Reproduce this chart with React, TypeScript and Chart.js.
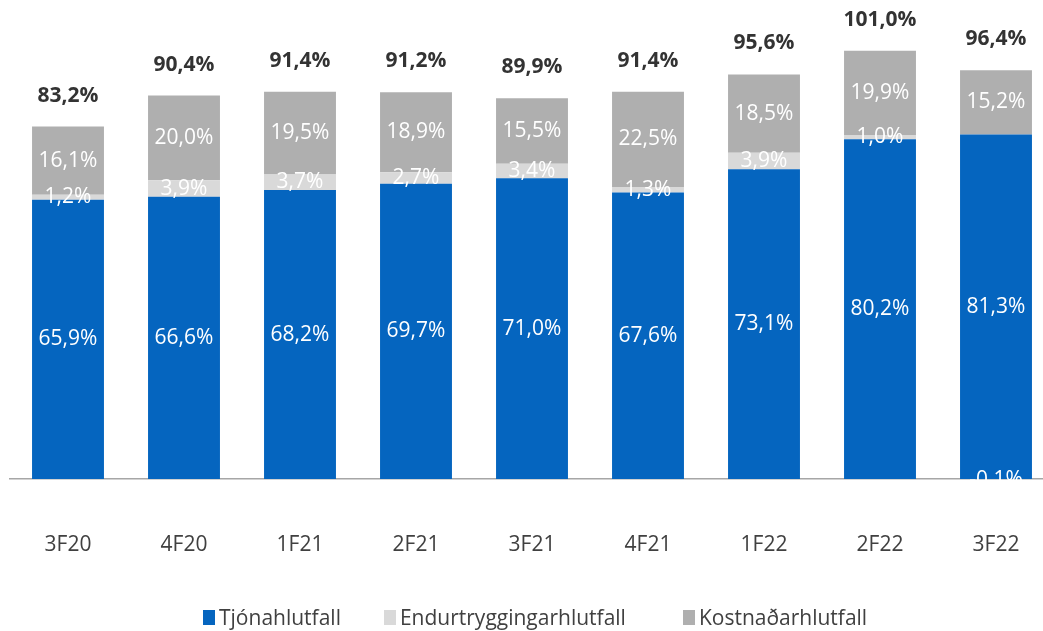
import React, { useEffect, useRef } from "react";
import { Chart, registerables } from "chart.js";

Chart.register(...registerables);

const categories = ["3F20", "4F20", "1F21", "2F21", "3F21", "4F21", "1F22", "2F22", "3F22"];
const tjonahlutfall = [65.9, 66.6, 68.2, 69.7, 71.0, 67.6, 73.1, 80.2, 81.3];
const endurtrygging = [1.2, 3.9, 3.7, 2.7, 3.4, 1.3, 3.9, 1.0, -0.1];
const kostnadar = [16.1, 20.0, 19.5, 18.9, 15.5, 22.5, 18.5, 19.9, 15.2];
const totals = [83.2, 90.4, 91.4, 91.2, 89.9, 91.4, 95.6, 101.0, 96.4];

const seriesNames = ["Tjónahlutfall", "Endurtryggingarhlutfall", "Kostnaðarhlutfall"];
const seriesColors = ["#0565BF", "#D9D9D9", "#AFAFAF"];

const FONT = "'Open Sans', sans-serif";

const fmt = (v: number) => v.toFixed(1).replace(".", ",") + "%";

const labelPlugin = {
  id: "labels",
  afterDatasetsDraw(chart: any) {
    const ctx = chart.ctx;
    ctx.save();
    ctx.textAlign = "center";
    ctx.textBaseline = "middle";
    ctx.font = `400 21px ${FONT}`;
    ctx.fillStyle = "#FFFFFF";
    chart.data.datasets.forEach((ds: any, di: number) => {
      const meta = chart.getDatasetMeta(di);
      meta.data.forEach((el: any, i: number) => {
        const v = ds.data[i];
        const yc = (el.y + el.base) / 2 + (v < 0 ? 0.5 : 0);
        ctx.fillText(fmt(v), el.x, yc);
      });
    });
    ctx.font = `700 21px ${FONT}`;
    ctx.fillStyle = "#333333";
    const ys = chart.scales.y;
    const xs = chart.scales.x;
    totals.forEach((t, i) => {
      let top = 0;
      chart.data.datasets.forEach((ds: any) => {
        if (ds.data[i] > 0) top += ds.data[i];
      });
      ctx.fillText(fmt(t), xs.getPixelForValue(i), ys.getPixelForValue(top) - 31);
    });
    ctx.restore();
  },
};

export default function App() {
  const ref = useRef<HTMLCanvasElement>(null);
  useEffect(() => {
    if (!ref.current) return;
    const data = [tjonahlutfall, endurtrygging, kostnadar];
    const chart = new Chart(ref.current, {
      type: "bar",
      data: {
        labels: categories,
        datasets: data.map((d, i) => ({
          label: seriesNames[i],
          data: d,
          backgroundColor: seriesColors[i],
          borderWidth: 0,
          barPercentage: 0.62,
          categoryPercentage: 1,
        })),
      },
      options: {
        animation: false,
        responsive: false,
        maintainAspectRatio: false,
        layout: { padding: { top: 13, left: 10, right: 0, bottom: 20 } },
        plugins: {
          tooltip: { enabled: false },
          legend: { display: false },
        },
        scales: {
          x: {
            stacked: true,
            grid: { display: false, drawTicks: false },
            border: { display: true, color: "#A6A6A6", width: 1.5 },
            ticks: { font: { family: FONT, size: 21, lineHeight: "72px" }, color: "#404040", padding: 30 },
          },
          y: {
            stacked: true,
            display: false,
            min: 0,
            max: 110,
          },
        },
      },
      plugins: [labelPlugin],
    });
    return () => chart.destroy();
  }, []);
  const legendItem = (i: number, ml: number) => (
    <div key={i} style={{ display: "flex", alignItems: "center", marginLeft: ml }}>
      <span style={{ display: "inline-block", width: 12, height: 15, background: seriesColors[i], marginRight: 4 }} />
      <span>{seriesNames[i]}</span>
    </div>
  );
  return (
    <div style={{ position: "fixed", left: 0, top: 0, width: 1043, height: 631, overflow: "hidden", background: "#fff" }}>
      <canvas ref={ref} width={1054} height={631} style={{ width: 1054, height: 631, display: "block" }} />
      <div
        style={{
          position: "absolute",
          left: 203,
          top: 602,
          height: 30,
          display: "flex",
          alignItems: "center",
          fontFamily: FONT,
          fontSize: 21,
          color: "#404040",
          whiteSpace: "nowrap",
        }}
      >
        {legendItem(0, 0)}
        {legendItem(1, 43)}
        {legendItem(2, 57)}
      </div>
    </div>
  );
}
